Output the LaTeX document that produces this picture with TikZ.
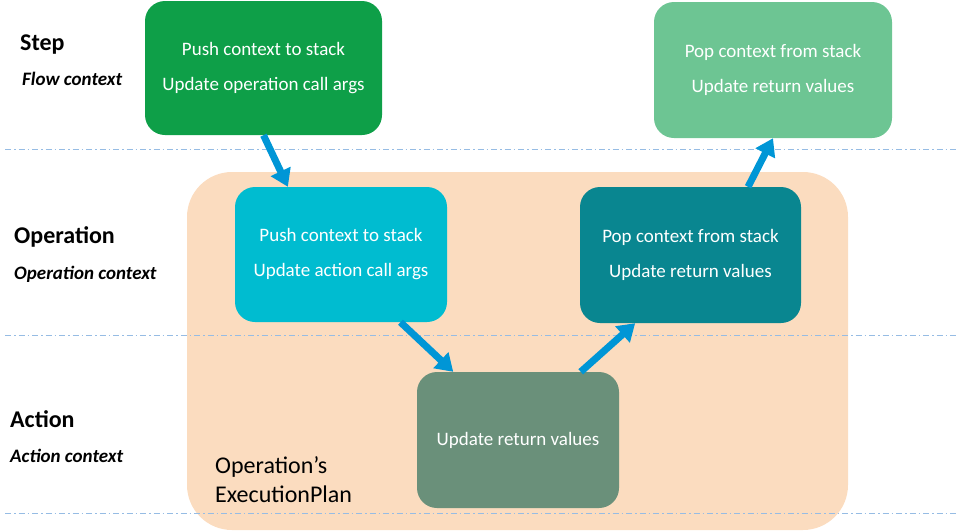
\documentclass[tikz,border=0pt]{standalone}
\usepackage{fontspec}
\setmainfont{Carlito}
\usetikzlibrary{arrows.meta,calc}
\definecolor{stepgreen}{RGB}{14,159,72}
\definecolor{steppale}{RGB}{109,197,147}
\definecolor{opcyan}{RGB}{0,188,208}
\definecolor{opteal}{RGB}{9,134,144}
\definecolor{actgreen}{RGB}{106,144,122}
\definecolor{planpeach}{RGB}{251,220,191}
\definecolor{flowblue}{RGB}{0,150,214}
\definecolor{sepblue}{RGB}{150,188,228}
\tikzset{x=1pt, y=-1pt,
    ctxbox/.style={rounded corners=20pt, text=white, align=center,
        font=\fontsize{19pt}{35pt}\selectfont},
    levelname/.style={anchor=base west, inner sep=0pt, font=\fontsize{24pt}{28pt}\selectfont\bfseries},
    levelctx/.style={anchor=base west, inner sep=0pt, font=\fontsize{19pt}{22pt}\selectfont\bfseries\itshape},
    sepline/.style={draw=sepblue, line width=1pt, dash pattern=on 6pt off 3pt on 1.5pt off 3pt},
    flow/.style={draw=flowblue, line width=7pt, -{Triangle[width=21pt,length=17pt]}},
    }
\begin{document}
\begin{tikzpicture}
\useasboundingbox (0,0) rectangle (958,531);
% the execution plan
\node[fill=planpeach, rounded corners=45pt, minimum width=661pt, minimum height=358pt]
    (plan) at (517.5,351) {};
\node[anchor=base west, inner sep=0pt, align=left, font=\fontsize{24pt}{29pt}\selectfont]
    (plantext) at (215,502) {Operation's\\ExecutionPlan};
% level separators
\foreach \y in {149,335,513}
    \draw[sepline] (5,\y) -- (958,\y);
% level names
\node[levelname] (lstep) at (20,50) {Step};
\node[levelctx] (lstepctx) at (22,85) {Flow context};
\node[levelname] (lop) at (14,243) {Operation};
\node[levelctx] (lopctx) at (14,279) {Operation context};
\node[levelname] (lact) at (10,427) {Action};
\node[levelctx] (lactctx) at (10,462) {Action context};
% boxes
\node[ctxbox, fill=stepgreen, minimum width=237pt, minimum height=134pt]
    (steppush) at (263.5,68) {Push context to stack\\Update operation call args};
\node[ctxbox, fill=steppale, minimum width=238pt, minimum height=136pt]
    (steppop) at (773,70) {Pop context from stack\\Update return values};
\node[ctxbox, fill=opcyan, minimum width=212pt, minimum height=135pt]
    (oppush) at (341,254.5) {Push context to stack\\Update action call args};
\node[ctxbox, fill=opteal, minimum width=221pt, minimum height=136pt]
    (oppop) at (690.5,255) {Pop context from stack\\Update return values};
\node[ctxbox, fill=actgreen, minimum width=202pt, minimum height=136pt]
    (act) at (518,440) {Update return values};
% arrows
\draw[flow] (steppush.south) -- ($(oppush.north west)!0.25!(oppush.north east)$);
\draw[flow] ($(oppush.south west)!0.78!(oppush.south east)$) -- ($(act.north west)!0.18!(act.north east)$);
\draw[flow] ($(act.north west)!0.81!(act.north east)$) -- ($(oppop.south west)!0.25!(oppop.south east)$);
\draw[flow] ($(oppop.north west)!0.76!(oppop.north east)$) -- (steppop.south);
\end{tikzpicture}
\end{document}
